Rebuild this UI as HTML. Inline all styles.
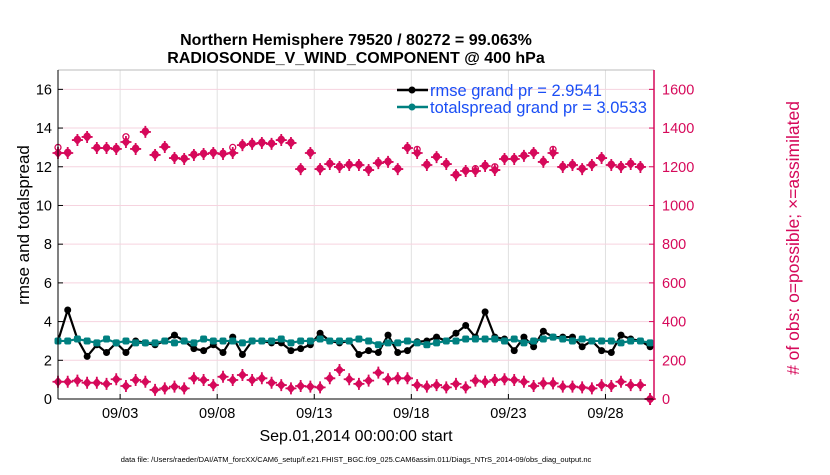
<!DOCTYPE html>
<html><head><meta charset="utf-8"><style>
body{margin:0;background:#fff;width:830px;height:470px;overflow:hidden}
svg text{font-family:"Liberation Sans",Arial,sans-serif}
</style></head><body>
<svg id="chart" width="830" height="470" viewBox="0 0 830 470" xmlns="http://www.w3.org/2000/svg">
<g id="grid"></g>
<g id="series"></g>
<g id="axes"></g>
<text x="356" y="45" text-anchor="middle" font-size="16" font-weight="bold">Northern Hemisphere 79520 / 80272 = 99.063%</text>
<text x="356" y="63" text-anchor="middle" font-size="16" font-weight="bold">RADIOSONDE_V_WIND_COMPONENT @ 400 hPa</text>
<text transform="translate(29,225) rotate(-90)" text-anchor="middle" font-size="17">rmse and totalspread</text>
<text transform="translate(799,238) rotate(-90)" text-anchor="middle" font-size="17.5" fill="#d6095a"># of obs: o=possible; ×=assimilated</text>
<text x="356" y="441" text-anchor="middle" font-size="16">Sep.01,2014 00:00:00 start</text>
<text x="356" y="462" text-anchor="middle" font-size="7.5">data file: /Users/raeder/DAI/ATM_forcXX/CAM6_setup/f.e21.FHIST_BGC.f09_025.CAM6assim.011/Diags_NTrS_2014-09/obs_diag_output.nc</text>
<g>
<line x1="397" y1="90" x2="428" y2="90" stroke="#000" stroke-width="2.5"/><circle cx="412" cy="90" r="3.5" fill="#000"/>
<text x="430" y="96" font-size="16.5" fill="#1a4ef5">rmse grand pr = 2.9541</text>
<line x1="397" y1="107" x2="428" y2="107" stroke="#008080" stroke-width="2.5"/><circle cx="412" cy="107" r="3.5" fill="#008080"/>
<text x="430" y="113" font-size="16.5" fill="#1a4ef5">totalspread grand pr = 3.0533</text>
</g>
</svg>
<script>
const tickLabels=["09/03","09/08","09/13","09/18","09/23","09/28"];
const tickDays=[2,7,12,17,22,27];
const leftTicks=[0,2,4,6,8,10,12,14,16];
const rightTicks=[0,200,400,600,800,1000,1200,1400,1600];
const rmse=[3.0,4.6,3.1,2.2,2.8,2.4,2.9,2.4,3.0,2.9,2.8,3.0,3.3,3.0,2.6,2.5,2.8,2.4,3.2,2.3,3.0,3.0,2.9,2.9,2.5,2.6,2.8,3.4,3.0,2.9,3.0,
2.3,2.5,2.4,3.3,2.4,2.5,2.96,3.0,3.2,3.0,3.4,3.8,3.2,4.5,3.2,3.1,2.5,3.2,2.7,3.5,3.2,3.2,3.2,2.7,3.0,2.5,2.4,3.3,3.1,3.0,2.7];
const spread=[3.0,3.0,3.1,3.0,2.9,3.1,2.9,3.0,2.9,2.9,2.9,3.0,2.9,3.0,2.9,3.1,3.0,3.0,3.0,2.9,3.0,3.0,3.0,3.1,2.9,3.0,3.0,3.1,3.0,3.0,3.0,
3.1,3.0,2.8,2.9,2.9,3.0,2.9,2.8,2.9,3.0,3.0,3.1,3.1,3.1,3.1,3.0,3.1,2.9,3.0,3.1,3.2,3.1,3.0,3.1,3.0,3.0,3.0,2.9,3.0,3.0,2.9];
const assimilated=[1271,1271,1338,1354,1297,1297,1292,1328,1292,1380,1261,1302,1245,1240,1261,1266,1271,1266,1271,1312,1318,1323,1318,1338,1323,1188,1271,1188,1214,1199,1209,
1209,1183,1219,1225,1188,1297,1271,1209,1250,1214,1157,1178,1178,1204,1183,1240,1240,1256,1271,1225,1271,1199,1209,1188,1209,1245,1209,1199,1214,1199,0];
const possible=[1300,1275,1342,1358,1300,1300,1296,1355,1296,1384,1265,1306,1249,1244,1265,1270,1275,1270,1300,1316,1322,1327,1322,1342,1327,1192,1275,1192,1218,1203,1213,
1213,1187,1223,1229,1192,1301,1290,1213,1254,1218,1161,1182,1190,1208,1200,1244,1244,1260,1275,1229,1290,1203,1213,1192,1213,1249,1213,1203,1218,1203,0];
const other=[89,89,95,84,84,78,102,67,98,89,47,55,64,55,107,98,72,115,98,124,98,107,84,72,55,67,64,60,107,150,102,
78,95,136,102,107,107,72,64,72,60,78,60,95,89,98,102,98,89,67,81,81,64,64,60,55,72,67,89,72,72,0];
const NS='http://www.w3.org/2000/svg';
const X0=58,X1=654,Y0=399,Y1=70;
const tmin=-1.2,tmax=29.5;
function xs(t){return X0+(t-tmin)/(tmax-tmin)*(X1-X0);}
function yl(v){return Y0-v/17*(Y0-Y1);}
function yr(v){return Y0-v/1700*(Y0-Y1);}
function tAt(i){return tmin+0.5*i;}
function mk(tag,at,parent){const e=document.createElementNS(NS,tag);for(const k in at)e.setAttribute(k,at[k]);parent.appendChild(e);return e;}
const grid=document.getElementById('grid'),ser=document.getElementById('series'),axes=document.getElementById('axes');
mk('rect',{x:X0,y:Y1,width:X1-X0,height:Y0-Y1,fill:'#fff',stroke:'none'},grid);
tickDays.forEach((d,k)=>{
 const g=mk('line',{x1:xs(d),x2:xs(d),y1:Y1,y2:Y0,stroke:'#e0e0e0','stroke-width':1},grid);
 
 
 const tk=mk('line',{x1:xs(d),x2:xs(d),y1:Y0,y2:Y0-5,stroke:'#000'},axes);
 
 
 const tl=mk('text',{x:xs(d),y:418,'text-anchor':'middle','font-size':14.5},axes);
 tl.textContent=tickLabels[k];
 
 
});
rightTicks.forEach(v=>{
 if(v>0){const g=mk('line',{x1:X0,x2:X1,y1:yr(v),y2:yr(v),stroke:'#f6d3df','stroke-width':1},grid);
 
 }
 const tk=mk('line',{x1:X1,x2:X1-5,y1:yr(v),y2:yr(v),stroke:'#d6095a'},axes);
 
 
 const tl=mk('text',{x:X1+8,y:yr(v)+5,'font-size':14.5,fill:'#d6095a'},axes);
 tl.textContent=v;
 
 
});
leftTicks.forEach(v=>{
 const tk=mk('line',{x1:X0,x2:X0+5,y1:yl(v),y2:yl(v),stroke:'#000'},axes);
 
 
 const tl=mk('text',{x:X0-6,y:yl(v)+5,'text-anchor':'end','font-size':14.5},axes);
 tl.textContent=v;
 
 
});
let a=mk('line',{x1:X0,x2:X1,y1:Y1,y2:Y1,stroke:'#bbb'},axes);
a=mk('line',{x1:X0,x2:X1,y1:Y0,y2:Y0,stroke:'#000'},axes);
a=mk('line',{x1:X0,x2:X0,y1:Y1,y2:Y0,stroke:'#000'},axes);
a=mk('line',{x1:X1,x2:X1,y1:Y1,y2:Y0,stroke:'#d6095a','stroke-width':1.5},axes);
const pink='#d6095a';
function star(cx,cy,name){
 const g=mk('g',{},ser);
 
 
 mk('path',{d:`M${cx} ${cy-5}L${cx+4.5} ${cy}L${cx} ${cy+5}L${cx-4.5} ${cy}Z`,fill:pink},g);
 mk('path',{d:`M${cx-5.5} ${cy}H${cx+5.5}M${cx} ${cy-6}V${cy+6}`,stroke:pink,'stroke-width':1.8},g);
}
possible.forEach((v,i)=>{const c=mk('circle',{cx:xs(tAt(i)),cy:yr(v),r:3,fill:'none',stroke:pink,'stroke-width':1.3},ser);
 
 });
assimilated.forEach((v,i)=>star(xs(tAt(i)),yr(v),'assimilated-point'));
other.forEach((v,i)=>star(xs(tAt(i)),yr(v),'count-point'));
function line(arr,col,name,square){
 const p=mk('polyline',{points:arr.map((v,i)=>xs(tAt(i))+','+yl(v)).join(' '),fill:'none',stroke:col,'stroke-width':2.2},ser);
 
 
 arr.forEach((v,i)=>{let m;
  if(square)m=mk('rect',{x:xs(tAt(i))-3.5,y:yl(v)-3.5,width:7,height:7,rx:2,fill:col},ser);
  else m=mk('circle',{cx:xs(tAt(i)),cy:yl(v),r:3.5,fill:col},ser);
  
  });
}
line(rmse,'#000','rmse',false);
line(spread,'#008080','totalspread',true);
</script>
</body></html>
